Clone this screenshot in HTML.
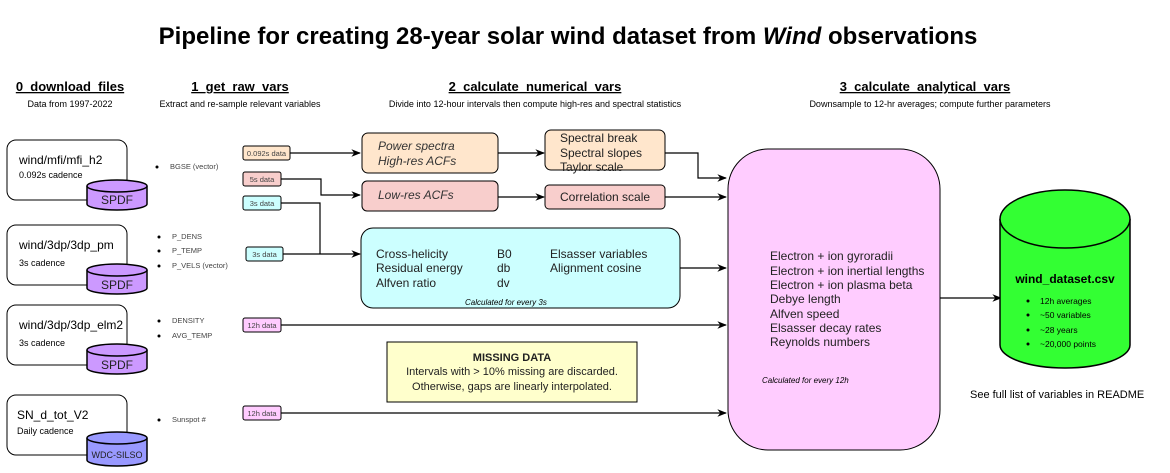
<!DOCTYPE html>
<html><head><meta charset="utf-8"><style>
body{margin:0;background:#fff;width:1170px;height:468px;overflow:hidden}
svg{font-family:"Liberation Sans",Arial,sans-serif}
</style></head><body>
<svg width="1170" height="468" viewBox="0 0 1170 468">
<defs><marker id="ar" viewBox="0 0 10 10" refX="9" refY="5" markerWidth="8" markerHeight="8" orient="auto"><path d="M0,1 L10,5 L0,9 L3,5z" fill="#000"/></marker></defs>
<text x="568" y="44" text-anchor="middle" font-size="24" font-weight="bold">Pipeline for creating 28-year solar wind dataset from <tspan font-style="italic">Wind</tspan> observations</text>

<g font-size="13" font-weight="bold" text-anchor="middle" text-decoration="underline">
<text x="70" y="91">0_download_files</text>
<text x="240" y="91">1_get_raw_vars</text>
<text x="535" y="91">2_calculate_numerical_vars</text>
<text x="925" y="91">3_calculate_analytical_vars</text>
</g>
<g font-size="9" text-anchor="middle">
<text x="70" y="107">Data from 1997-2022</text>
<text x="240" y="107">Extract and re-sample relevant variables</text>
<text x="535" y="107">Divide into 12-hour intervals then compute high-res and spectral statistics</text>
<text x="930" y="107">Downsample to 12-hr averages; compute further parameters</text>
</g>

<g stroke="#000" stroke-width="1" fill="#fff">
<rect x="7" y="140" width="120" height="60" rx="9"/>
<rect x="7" y="225" width="120" height="60" rx="9"/>
<rect x="7" y="305" width="120" height="60" rx="9"/>
<rect x="7" y="395" width="120" height="60" rx="9"/>
</g>
<g font-size="12">
<text x="19" y="164">wind/mfi/mfi_h2</text><text x="19" y="249">wind/3dp/3dp_pm</text><text x="19" y="329">wind/3dp/3dp_elm2</text><text x="17" y="419">SN_d_tot_V2</text>
</g>
<g font-size="9">
<text x="19" y="178">0.092s cadence</text><text x="19" y="266">3s cadence</text><text x="19" y="346">3s cadence</text><text x="17" y="434">Daily cadence</text>
</g>
<g stroke="#000" stroke-width="1.5">
<g><path d="M87,186 v18 a30,6 0 0 0 60,0 v-18" fill="#cc99ff"/><ellipse cx="117" cy="186" rx="30" ry="6" fill="#cc99ff"/></g>
<g><path d="M87,270 v18 a30,6 0 0 0 60,0 v-18" fill="#cc99ff"/><ellipse cx="117" cy="270" rx="30" ry="6" fill="#cc99ff"/></g>
<g><path d="M87,350 v18 a30,6 0 0 0 60,0 v-18" fill="#cc99ff"/><ellipse cx="117" cy="350" rx="30" ry="6" fill="#cc99ff"/></g>
<g><path d="M87,438 v22 a30,6 0 0 0 60,0 v-22" fill="#9999ff"/><ellipse cx="117" cy="438" rx="30" ry="6" fill="#9999ff"/></g>
</g>
<g font-size="12" text-anchor="middle" fill="#222">
<text x="117" y="204">SPDF</text><text x="117" y="289">SPDF</text><text x="117" y="369">SPDF</text><text x="117" y="458" font-size="9">WDC-SILSO</text>
</g>

<g font-size="7.5" fill="#444">
<circle cx="157" cy="167" r="1.5" fill="#000"/><text x="170" y="169">BGSE (vector)</text>
<circle cx="159" cy="237" r="1.5" fill="#000"/><text x="172" y="239">P_DENS</text>
<circle cx="159" cy="251" r="1.5" fill="#000"/><text x="172" y="253">P_TEMP</text>
<circle cx="159" cy="266" r="1.5" fill="#000"/><text x="172" y="268">P_VELS (vector)</text>
<circle cx="159" cy="321" r="1.5" fill="#000"/><text x="172" y="323">DENSITY</text>
<circle cx="159" cy="336" r="1.5" fill="#000"/><text x="172" y="338">AVG_TEMP</text>
<circle cx="159" cy="420" r="1.5" fill="#000"/><text x="172" y="422">Sunspot #</text>
</g>

<g stroke="#000" stroke-width="1.2" fill="none">
<path d="M290,153 H360" marker-end="url(#ar)"/>
<path d="M281,179 H321 V195 H360" marker-end="url(#ar)"/>
<path d="M281,203 H320 V254"/>
<path d="M283,254 H360" marker-end="url(#ar)"/>
<path d="M281,325 H726" marker-end="url(#ar)"/>
<path d="M281,413 H726" marker-end="url(#ar)"/>
<path d="M498,153 H544" marker-end="url(#ar)"/>
<path d="M498,197 H544" marker-end="url(#ar)"/>
<path d="M665,153 H698 V178 H726" marker-end="url(#ar)"/>
<path d="M665,197 H726" marker-end="url(#ar)"/>
<path d="M680,268 H726" marker-end="url(#ar)"/>
<path d="M940,298 H1001" marker-end="url(#ar)"/>
</g>

<g stroke="#000" stroke-width="1" font-size="7.5">
<rect x="243" y="146" width="47" height="14" rx="2" fill="#ffe6cc"/>
<rect x="243" y="172" width="38" height="14" rx="2" fill="#f8cecc"/>
<rect x="243" y="196" width="38" height="14" rx="2" fill="#ccffff"/>
<rect x="246" y="247" width="37" height="14" rx="2" fill="#ccffff"/>
<rect x="243" y="318" width="38" height="14" rx="2" fill="#ffccff"/>
<rect x="243" y="406" width="38" height="14" rx="2" fill="#ffccff"/>
</g>
<g font-size="7.5" fill="#444" text-anchor="middle">
<text x="266.5" y="156">0.092s data</text><text x="262" y="182">5s data</text><text x="262" y="206">3s data</text><text x="264.5" y="257">3s data</text><text x="262" y="328">12h data</text><text x="262" y="416">12h data</text>
</g>

<g stroke="#000" stroke-width="1">
<rect x="362" y="133" width="136" height="40" rx="6" fill="#ffe6cc"/>
<rect x="362" y="181" width="136" height="30" rx="5" fill="#f8cecc"/>
<rect x="545" y="130" width="120" height="40" rx="6" fill="#ffe6cc"/>
<rect x="545" y="185" width="120" height="24" rx="4" fill="#f8cecc"/>
<rect x="361" y="228" width="319" height="80" rx="12" fill="#ccffff"/>
<rect x="387" y="342" width="250" height="60" fill="#ffffcc"/>
<rect x="728" y="149" width="212" height="301" rx="40" fill="#ffccff"/>
</g>
<g font-size="12" fill="#222">
<g font-style="italic" fill="#333"><text x="378" y="150">Power spectra</text><text x="378" y="165">High-res ACFs</text><text x="378" y="199">Low-res ACFs</text></g>
<text x="560" y="142">Spectral break</text><text x="560" y="157">Spectral slopes</text><text x="560" y="171">Taylor scale</text>
<text x="560" y="201">Correlation scale</text>
<text x="376" y="258">Cross-helicity</text><text x="376" y="272">Residual energy</text><text x="376" y="287">Alfven ratio</text>
<text x="497" y="258">B0</text><text x="497" y="272">db</text><text x="497" y="287">dv</text>
<text x="550" y="258">Elsasser variables</text><text x="550" y="272">Alignment cosine</text>
<text x="770" y="260">Electron + ion gyroradii</text><text x="770" y="275">Electron + ion inertial lengths</text><text x="770" y="289">Electron + ion plasma beta</text><text x="770" y="303">Debye length</text><text x="770" y="318">Alfven speed</text><text x="770" y="332">Elsasser decay rates</text><text x="770" y="346">Reynolds numbers</text>
</g>
<text x="465" y="305" font-size="8" font-style="italic">Calculated for every 3s</text>
<text x="762" y="383" font-size="8" font-style="italic">Calculated for every 12h</text>
<g font-size="11" text-anchor="middle" fill="#222">
<text x="512" y="361" font-weight="bold">MISSING DATA</text>
<text x="512" y="375">Intervals with &gt; 10% missing are discarded.</text>
<text x="512" y="390">Otherwise, gaps are linearly interpolated.</text>
</g>

<g stroke="#000" stroke-width="1.5">
<path d="M1000,219 V345 A65,23 0 0 0 1130,345 V219" fill="#33ff33"/>
<ellipse cx="1065" cy="219" rx="65" ry="29" fill="#33ff33"/>
</g>
<text x="1065" y="283" font-size="12" font-weight="bold" text-anchor="middle">wind_dataset.csv</text>
<g font-size="8.5">
<circle cx="1028" cy="301" r="1.5"/><text x="1040" y="304">12h averages</text>
<circle cx="1028" cy="315" r="1.5"/><text x="1040" y="318">~50 variables</text>
<circle cx="1028" cy="330" r="1.5"/><text x="1040" y="333">~28 years</text>
<circle cx="1028" cy="344" r="1.5"/><text x="1040" y="347">~20,000 points</text>
</g>
<text x="970" y="398" font-size="11">See full list of variables in README</text>
</svg>
</body></html>
